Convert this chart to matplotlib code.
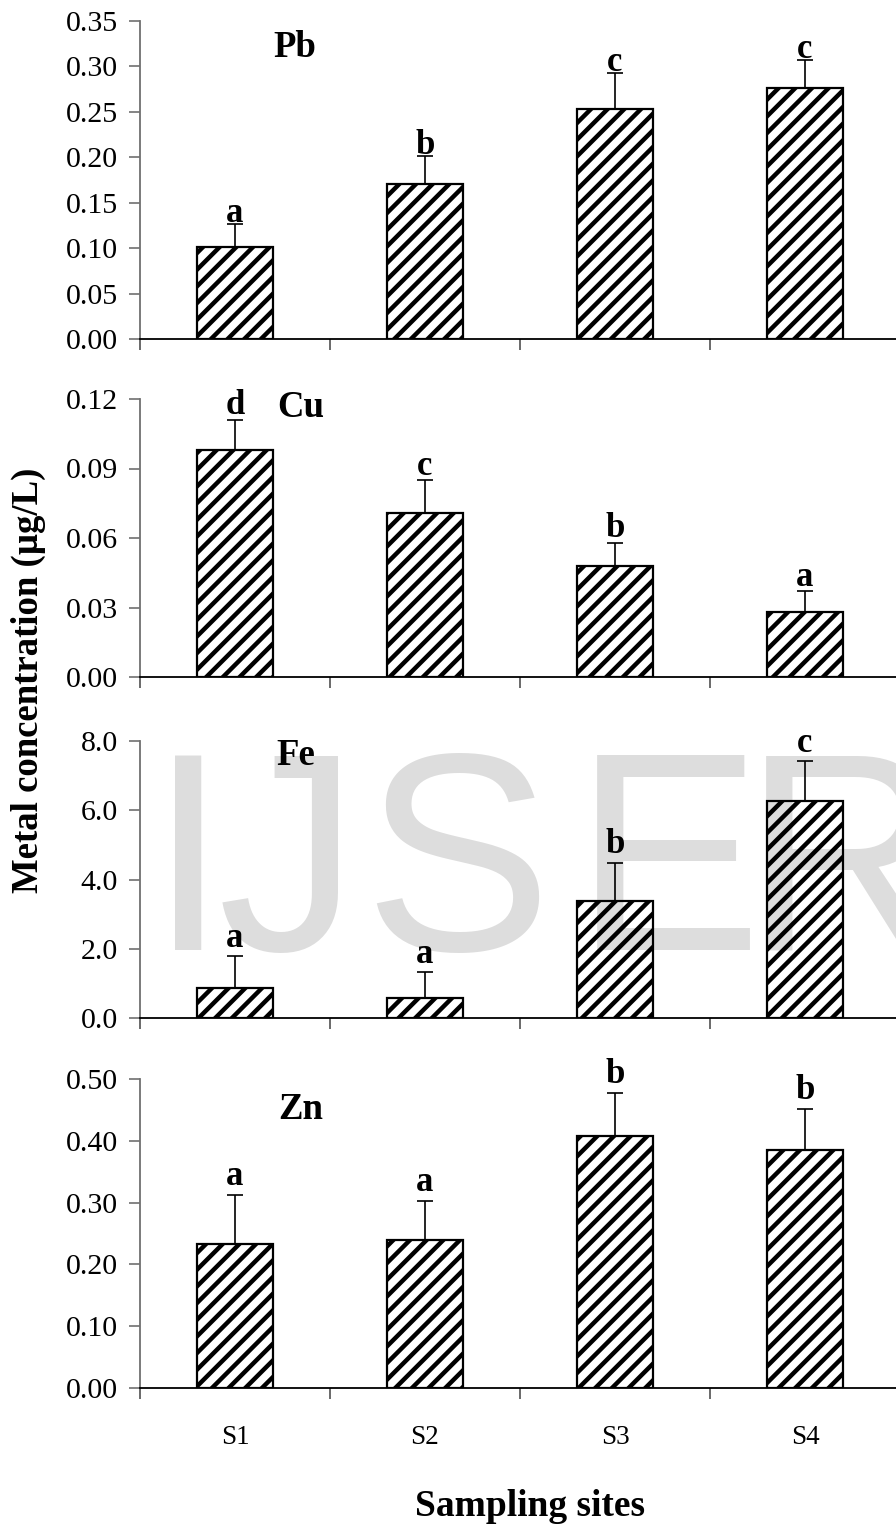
import numpy as np
import matplotlib
matplotlib.use("Agg")
import matplotlib.pyplot as plt
from matplotlib.ticker import FormatStrFormatter

plt.rcParams['font.family'] = ['Liberation Serif', 'DejaVu Serif']
plt.rcParams['hatch.linewidth'] = 3.2
plt.rcParams['hatch.color'] = 'black'

sites = ['S1', 'S2', 'S3', 'S4']

# mean and (upper) standard error for each metal
pb_mean = [0.101, 0.171, 0.253, 0.276]
pb_err = [0.026, 0.030, 0.040, 0.031]
pb_letters = ['a', 'b', 'c', 'c']

cu_mean = [0.098, 0.071, 0.048, 0.028]
cu_err = [0.013, 0.014, 0.010, 0.009]
cu_letters = ['d', 'c', 'b', 'a']

fe_mean = [0.86, 0.58, 3.39, 6.27]
fe_err = [0.92, 0.74, 1.10, 1.14]
fe_letters = ['a', 'a', 'b', 'c']

zn_mean = [0.233, 0.240, 0.407, 0.385]
zn_err = [0.080, 0.063, 0.071, 0.067]
zn_letters = ['a', 'a', 'b', 'b']

W, H = 896, 1526


def draw_panel(ax, means, errs, letters, name, ymax, ystep, fmt, name_pos, gap):
    x = np.arange(1, len(sites) + 1)
    ax.bar(x, means, width=0.405, color='white', edgecolor='black',
           linewidth=1.6, hatch='//', zorder=2)
    ax.errorbar(x, means, yerr=[np.zeros(len(errs)), errs], fmt='none',
                ecolor='black', elinewidth=1.2, capsize=5.5, capthick=1.2, zorder=3)
    for xi, m, e, t in zip(x, means, errs, letters):
        ax.annotate(t, (xi, m + e), xytext=(0, gap), textcoords='offset points',
                    ha='center', va='baseline', fontsize=25, fontweight='bold')
    ax.text(name_pos[0], name_pos[1], name, transform=ax.transAxes,
            ha='center', va='center', fontsize=26.5, fontweight='bold')

    ax.set_xlim(0.5, 4.5)
    ax.set_ylim(0, ymax)
    ax.set_yticks(np.arange(0, ymax + ystep / 2, ystep))
    ax.yaxis.set_major_formatter(FormatStrFormatter(fmt))
    ax.set_xticks([0.5, 1.5, 2.5, 3.5, 4.5])
    ax.set_xticklabels([])
    ax.spines['top'].set_visible(False)
    ax.spines['right'].set_visible(False)
    ax.spines['left'].set_color('#707070')
    ax.spines['left'].set_linewidth(1.3)
    ax.spines['bottom'].set_color('black')
    ax.spines['bottom'].set_linewidth(1.3)
    ax.tick_params(axis='y', direction='out', length=8, width=1.2,
                   color='#707070', pad=8, labelsize=21.5)
    ax.tick_params(axis='x', direction='out', length=8, width=1.2,
                   color='#505050')


fig = plt.figure(figsize=(W / 100, H / 100), dpi=100)

left = 140 / W
width = 760 / W
# (top pixel, bottom pixel) of each panel
panels = [
    (21, 339, pb_mean, pb_err, pb_letters, 'Pb', 0.35, 0.05, '%.2f', (0.204, 0.918), 1.5),
    (399, 677, cu_mean, cu_err, cu_letters, 'Cu', 0.12, 0.03, '%.2f', (0.211, 0.968), 4),
    (741, 1018, fe_mean, fe_err, fe_letters, 'Fe', 8.0, 2.0, '%.1f', (0.205, 0.949), 7),
    (1079, 1388, zn_mean, zn_err, zn_letters, 'Zn', 0.50, 0.10, '%.2f', (0.211, 0.90), 7),
]

axes = []
for top, bot, m, e, l, name, ymax, ystep, fmt, npos, gap in panels:
    ax = fig.add_axes([left, 1 - bot / H, width, (bot - top) / H])
    draw_panel(ax, m, e, l, name, ymax, ystep, fmt, npos, gap)
    axes.append(ax)

# site labels only on the bottom panel
axb = axes[-1]
axb.set_xticks([1, 2, 3, 4], minor=True)
axb.set_xticklabels(sites, minor=True, fontsize=19.5)
axb.tick_params(axis='x', which='minor', length=0, pad=27)

fig.text(28 / W, 1 - 680 / H, 'Metal concentration (\u00b5g/L)', rotation=90,
         ha='center', va='center', fontsize=26.5, fontweight='bold')
fig.text(530 / W, 1 - 1507 / H, 'Sampling sites', ha='center', va='center',
         fontsize=27, fontweight='bold')

# journal watermark, drawn on top with low alpha so the bars show through
for ch, cx in zip('IJSER', [188, 288, 457, 668, 845]):
    fig.text(cx / W, 1 - 950 / H, ch, family=['Liberation Sans', 'DejaVu Sans'],
             fontsize=203, color='black', alpha=0.135, ha='center',
             va='baseline', zorder=10)

fig.savefig('out.png', dpi=100, facecolor='white')
